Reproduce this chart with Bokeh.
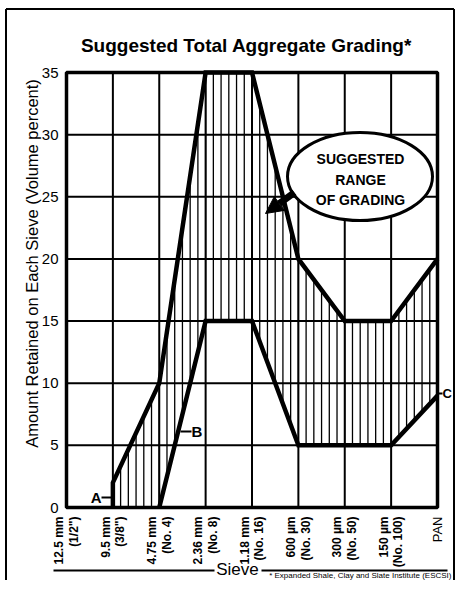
import numpy as np
from bokeh.plotting import figure
from bokeh.models import Range1d, Arrow, NormalHead, ColumnDataSource
from bokeh.core.properties import value
from bokeh.embed import file_html
from bokeh.resources import INLINE

# ---- data -------------------------------------------------------------
sieves = ['12.5 mm\n(1/2")', '9.5 mm\n(3/8")', '4.75 mm\n(No. 4)', '2.36 mm\n(No. 8)',
          '1.18 mm\n(No. 16)', '600 µm\n(No. 30)', '300 µm\n(No. 50)',
          '150 µm\n(No. 100)', 'PAN']
sieve_pos = list(range(len(sieves)))
# upper limit curve (A), positions are sieve indices
upper_pos = [1, 1, 2, 3, 4, 5, 6, 7, 8]
upper_pct = [0, 2, 10, 35, 35, 20, 15, 15, 20]
# lower limit curve (B ... C)
lower_pos = [2, 3, 4, 5, 6, 7, 8]
lower_pct = [0, 15, 15, 5, 5, 5, 9]
y_ticks = [0, 5, 10, 15, 20, 25, 30, 35]

FONT = "Liberation Sans"
W, H = 455, 580
PX_X = 46.375          # pixels per sieve step
PX_Y = 435 / 35        # pixels per percent

def X(px):
    return (px - 66) / PX_X

def Y(py):
    return (507 - py) / PX_Y

p = figure(width=W, height=H, x_range=Range1d(X(0), X(W)),
           y_range=Range1d(Y(H), Y(0)), output_backend="svg",
           toolbar_location=None, min_border=0, title=None,
           x_axis_location=None, y_axis_location=None)
p.background_fill_color = "white"
p.border_fill_color = "white"
p.outline_line_color = None
p.xgrid.visible = False
p.ygrid.visible = False

xmin, xmax = sieve_pos[0], sieve_pos[-1]
ymin, ymax = y_ticks[0], y_ticks[-1]

# grid
p.segment(x0=sieve_pos, y0=[ymin] * len(sieve_pos), x1=sieve_pos, y1=[ymax] * len(sieve_pos),
          line_color="black", line_width=2)
p.segment(x0=[xmin] * len(y_ticks), y0=y_ticks, x1=[xmax] * len(y_ticks), y1=y_ticks,
          line_color="black", line_width=2)

# hatching between the two curves
xs = np.arange(6, 49) / 6.0
up = np.interp(xs, upper_pos[1:], upper_pct[1:])
lo = np.interp(xs, lower_pos, lower_pct, left=0)
m = up > lo
p.segment(xs[m], lo[m], xs[m], up[m], line_color="black", line_width=1.3)

# plot box
p.quad(left=[xmin], right=[xmax], bottom=[ymin], top=[ymax], fill_color=None,
       line_color="black", line_width=3.5)

# limit curves
p.line(upper_pos, upper_pct, line_color="black", line_width=4.5, line_join="miter")
p.line(lower_pos, lower_pct, line_color="black", line_width=4.5, line_join="miter")

# tick labels
p.text(x=[X(58)] * len(y_ticks), y=y_ticks, text=[str(t) for t in y_ticks],
       text_font=value(FONT), text_font_size="15px", text_align="right",
       text_baseline="middle", text_color="black")
xlab = ColumnDataSource(dict(
    x=sieve_pos, y=[Y(516)] * len(sieves), text=sieves,
    style=["bold"] * (len(sieves) - 1) + ["normal"],
    size=["12px"] * (len(sieves) - 1) + ["13px"]))
p.text(x="x", y="y", text="text", source=xlab, angle=np.pi / 2,
       text_font=value(FONT), text_font_size="size", text_font_style="style",
       text_align="right", text_baseline="middle", text_line_height=1.05,
       text_color="black")

# axis titles, chart title, footnote
p.text(x=[X(31)], y=[Y(263)], text=["Amount Retained on Each Sieve (Volume percent)"],
       angle=np.pi / 2, text_font=value(FONT), text_font_size="16.5px",
       text_align="center", text_baseline="middle", text_color="black")
p.text(x=[X(246)], y=[Y(45)], text=["Suggested Total Aggregate Grading*"],
       text_font=value(FONT), text_font_size="19px", text_font_style="bold",
       text_align="center", text_baseline="middle", text_color="black")
p.text(x=[X(237)], y=[Y(569)], text=["Sieve"], text_font=value(FONT),
       text_font_size="17px", text_align="center", text_baseline="middle",
       text_color="black")
p.segment(x0=[X(53), X(261)], y0=[Y(570)] * 2, x1=[X(214), X(447)], y1=[Y(570)] * 2,
          line_color="black", line_width=2)
p.text(x=[X(451)], y=[Y(575)], text=["* Expanded Shale, Clay and Slate Institute (ESCSI)"],
       text_font=value(FONT), text_font_size="8px", text_align="right",
       text_baseline="middle", text_color="black")

# outer frame of the figure
p.segment(x0=[X(5.5), X(5.5), X(453.5)], y0=[Y(8.5), Y(8.5), Y(8.5)],
          x1=[X(5.5), X(453.5), X(453.5)], y1=[Y(600), Y(8.5), Y(600)],
          line_color="black", line_width=2)

# callout ellipse with arrow
p.ellipse(x=[X(359.5)], y=[Y(176)], width=[145 / PX_X], height=[88 / PX_Y],
          fill_color="white", line_color="black", line_width=3)
p.text(x=[X(360)] * 3, y=[Y(158), Y(179), Y(199)],
       text=["SUGGESTED", "RANGE", "OF GRADING"], text_font=value(FONT),
       text_font_size="14px", text_font_style="bold", text_align="center",
       text_baseline="middle", text_color="black")
p.add_layout(Arrow(x_start=X(294), y_start=Y(192), x_end=X(265), y_end=Y(213),
                   line_width=7, line_color="black",
                   end=NormalHead(size=17, fill_color="black", line_color="black")))

# curve letters
p.segment(x0=[X(101), X(180), X(437)], y0=[Y(497), Y(431), Y(393)],
          x1=[X(113), X(191), X(442)], y1=[Y(497), Y(431), Y(393)],
          line_color="black", line_width=2)
p.text(x=[X(101)], y=[Y(497)], text=["A"], text_font=value(FONT), text_font_size="15px",
       text_font_style="bold", text_align="right", text_baseline="middle",
       text_color="black")
p.text(x=[X(191)], y=[Y(431)], text=["B"], text_font=value(FONT),
       text_font_size="15px", text_font_style="bold", text_align="left",
       text_baseline="middle", text_color="black")
p.text(x=[X(442)], y=[Y(393)], text=["C"], text_font=value(FONT),
       text_font_size="13px", text_font_style="bold", text_align="left",
       text_baseline="middle", text_color="black")

open("out.html", "w").write(file_html(p, INLINE))
